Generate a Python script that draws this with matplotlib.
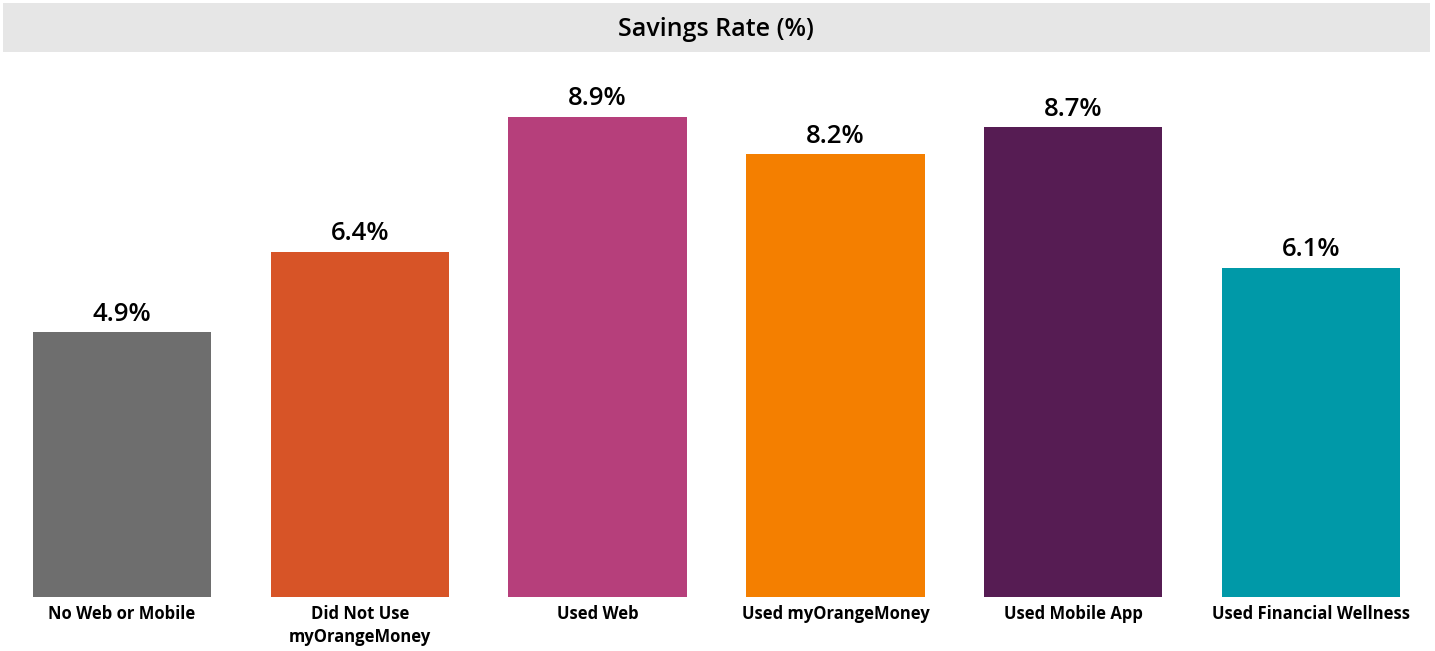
import matplotlib.pyplot as plt
from matplotlib.patches import Rectangle

categories = ["No Web or Mobile", "Did Not Use\nmyOrangeMoney", "Used Web",
              "Used myOrangeMoney", "Used Mobile App", "Used Financial Wellness"]
savings_rate = [4.9, 6.4, 8.9, 8.2, 8.7, 6.1]
colors = ["#6e6e6e", "#d75427", "#b63f7b", "#f47f00", "#561c53", "#0099a8"]

plt.rcParams['font.family'] = ['Open Sans', 'DejaVu Sans']

W, H = 1435, 651
fig = plt.figure(figsize=(W / 100, H / 100), dpi=100)

# title band
fig.patches.append(Rectangle((3 / W, 1 - 52 / H), 1427 / W, 49 / H,
                             transform=fig.transFigure, facecolor="#e6e6e6",
                             edgecolor="none", zorder=0))
fig.text(716 / W, 1 - 29 / H, "Savings Rate (%)", ha="center", va="center",
         fontsize=18, fontweight="semibold", color="black")

ax = fig.add_axes([3 / W, 54 / H, 1427 / W, 542 / H])
x = range(len(categories))
bars = ax.bar(x, savings_rate, width=0.75, color=colors)

for b, v in zip(bars, savings_rate):
    ax.text(b.get_x() + b.get_width() / 2, v + 0.1, f"{v}%",
            ha="center", va="bottom", fontsize=18.5, fontweight="semibold")

ax.set_xlim(-0.5, len(categories) - 0.5)
ax.set_ylim(0, 10.04)
ax.set_xticks(list(x))
ax.set_xticklabels(categories, fontsize=12, fontweight="bold", linespacing=1.35)
ax.tick_params(axis="x", length=0, pad=6)
ax.set_yticks([])
for s in ax.spines.values():
    s.set_visible(False)

fig.savefig("out.png", dpi=100)
